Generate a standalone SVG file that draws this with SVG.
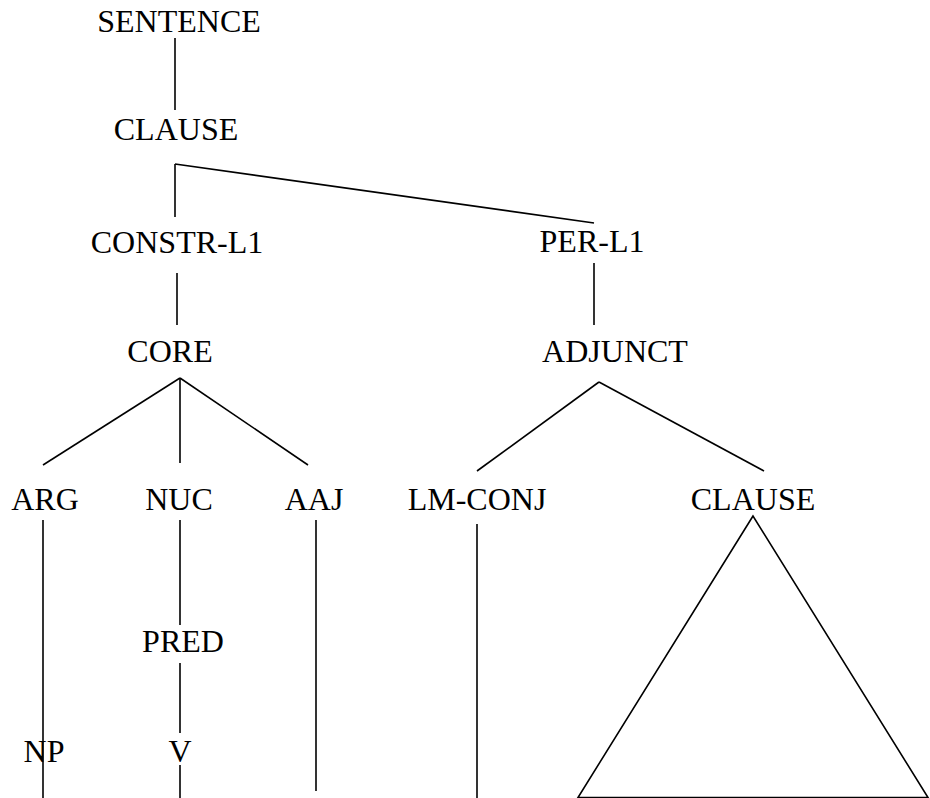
<svg xmlns="http://www.w3.org/2000/svg" width="930" height="798" viewBox="0 0 930 798">
<style>
text{font-family:"Liberation Serif","Times New Roman",serif;font-size:32px;fill:#000;text-anchor:middle}
.e{stroke:#000;stroke-width:1.6;fill:none}
</style>
<rect width="930" height="798" fill="#fff"/>
<g id="connectors">
<line class="e" x1="175" y1="38" x2="175" y2="110"/>
<line class="e" x1="175" y1="164" x2="175" y2="217"/>
<line class="e" x1="175" y1="164" x2="594" y2="223"/>
<line class="e" x1="177" y1="273" x2="177" y2="325"/>
<line class="e" x1="594" y1="263" x2="594" y2="325"/>
<line class="e" x1="180" y1="378" x2="43" y2="465"/>
<line class="e" x1="180" y1="378" x2="180" y2="463"/>
<line class="e" x1="180" y1="378" x2="308" y2="465"/>
<line class="e" x1="599" y1="382" x2="477" y2="471"/>
<line class="e" x1="599" y1="382" x2="764" y2="471"/>
<line class="e" x1="43" y1="520" x2="43" y2="798"/>
<line class="e" x1="180" y1="520" x2="180" y2="625"/>
<line class="e" x1="180" y1="663" x2="180" y2="733"/>
<line class="e" x1="180" y1="765" x2="180" y2="798"/>
<line class="e" x1="316" y1="520" x2="316" y2="791"/>
<line class="e" x1="477" y1="524" x2="477" y2="798"/>
<polygon class="e" points="753,516 578,797.5 928,797.5"/>
</g>
<g id="sentence"><text x="179" y="32">SENTENCE</text></g>
<g id="clause1"><text x="176" y="140">CLAUSE</text></g>
<g id="constr-l1"><text x="177" y="253">CONSTR-L1</text></g>
<g id="per-l1"><text x="592" y="252">PER-L1</text></g>
<g id="core"><text x="170" y="362">CORE</text></g>
<g id="adjunct"><text x="615" y="362">ADJUNCT</text></g>
<g id="arg"><text x="45" y="510">ARG</text></g>
<g id="nuc"><text x="179" y="510">NUC</text></g>
<g id="aaj"><text x="314" y="510">AAJ</text></g>
<g id="lm-conj"><text x="477" y="510">LM-CONJ</text></g>
<g id="clause2"><text x="753" y="510">CLAUSE</text></g>
<g id="pred"><text x="183" y="652">PRED</text></g>
<g id="np"><text x="44" y="762">NP</text></g>
<g id="v"><text x="180" y="762">V</text></g>
</svg>
